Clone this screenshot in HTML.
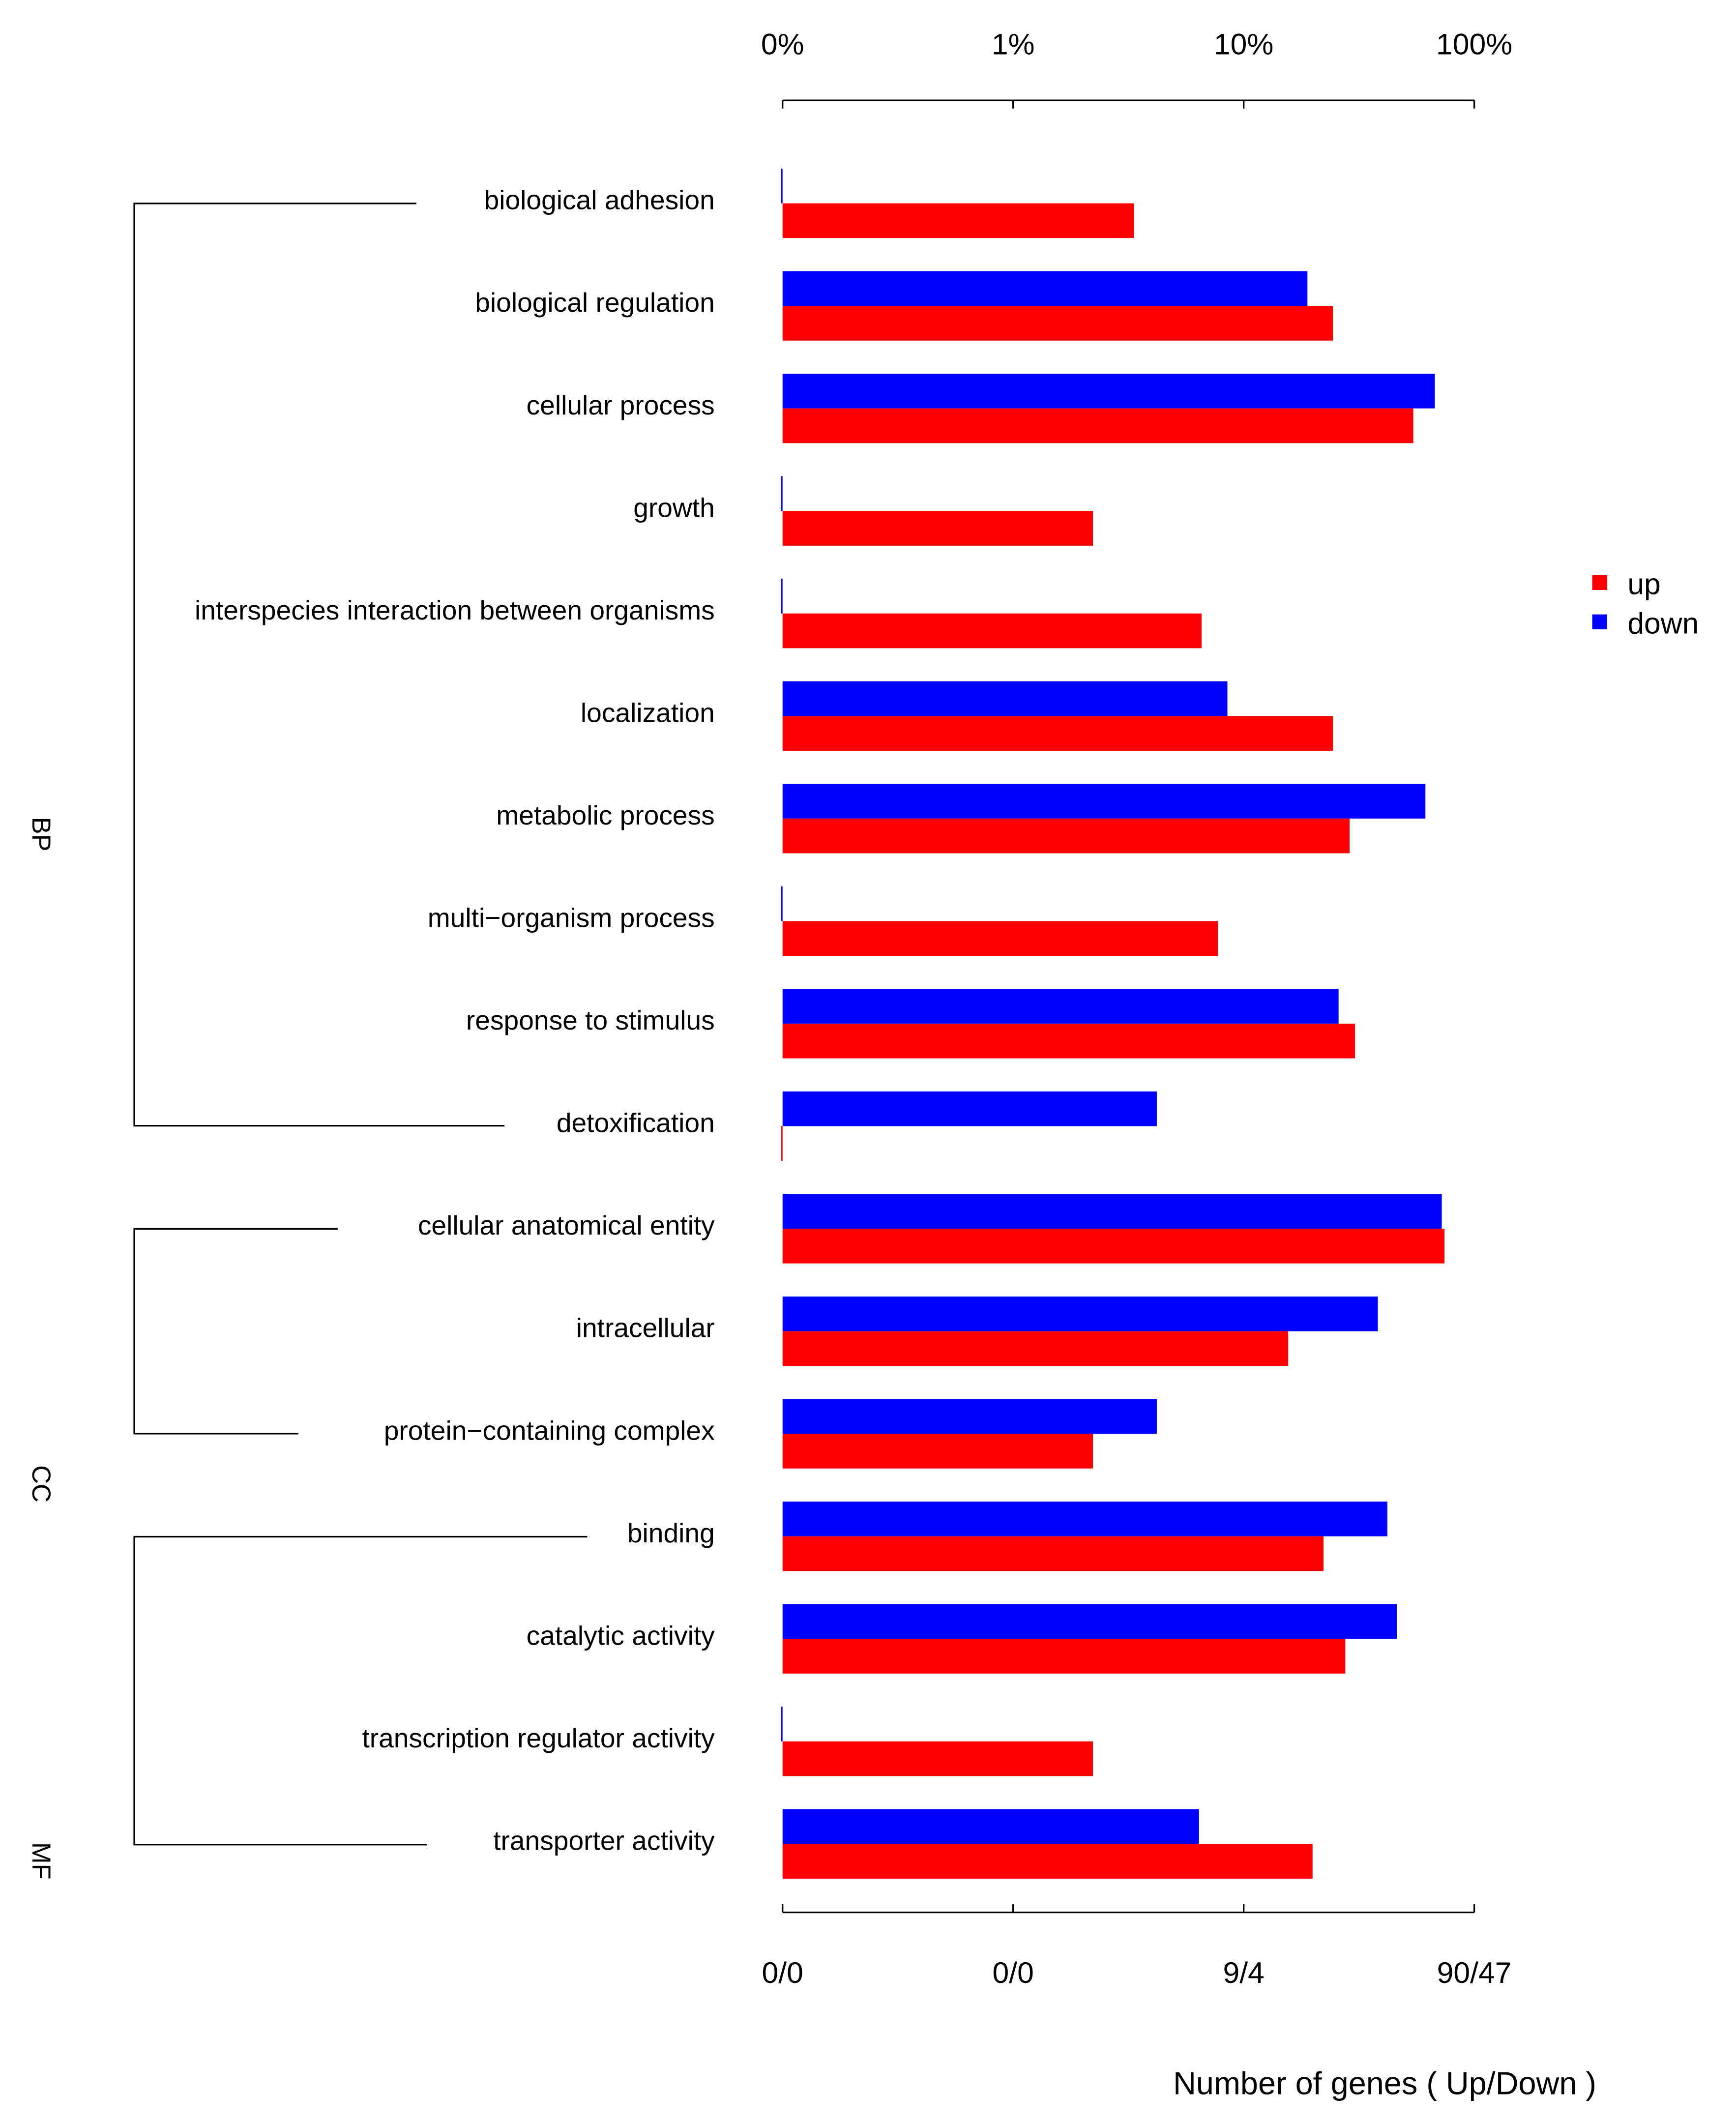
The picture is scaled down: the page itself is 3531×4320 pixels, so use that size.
<!DOCTYPE html>
<html><head><meta charset="utf-8">
<style>html,body{margin:0;padding:0;background:#fff}svg{display:block}text{font-family:"Liberation Sans",Arial,sans-serif;fill:#000}</style>
</head><body>
<svg id="chart" width="3531" height="4320" viewBox="0 0 1280 1566" xmlns="http://www.w3.org/2000/svg">
<g id="axes"></g><g id="bars"></g><g id="labels"></g>
<g stroke="#000" stroke-width="1.2" fill="none">
<path d="M307,150H99V830H372"/>
<path d="M249,906H99V1057H220"/>
<path d="M433,1133H99V1360H315"/>
</g>
<text font-size="19" text-anchor="middle" transform="translate(24,615) rotate(90)">BP</text>
<text font-size="19" text-anchor="middle" transform="translate(24,1094) rotate(90)">CC</text>
<text font-size="19" text-anchor="middle" transform="translate(24,1372) rotate(90)">MF</text>
<g>
<rect x="1174" y="424" width="11" height="11" fill="#ff0000"/>
<text x="1200" y="438" font-size="22">up</text>
<rect x="1174" y="453" width="11" height="11" fill="#0000ff"/>
<text x="1200" y="467" font-size="22">down</text>
</g>
<text x="1021" y="1544" font-size="23.5" text-anchor="middle">Number of genes ( Up/Down )</text>
</svg>
<script>
const categories = ["biological adhesion","biological regulation","cellular process","growth","interspecies interaction between organisms","localization","metabolic process","multi\u2212organism process","response to stimulus","detoxification","cellular anatomical entity","intracellular","protein\u2212containing complex","binding","catalytic activity","transcription regulator activity","transporter activity"];
const upPct = [3.34,24.4,54.4,2.22,6.57,24.4,28.8,7.73,30.4,0,74.3,15.6,2.22,22.2,27.6,2.22,19.9];
const downPct = [0,18.9,67.5,0,0,8.5,61.4,0,25.8,4.2,72.3,38.2,4.2,42,46.2,0,6.4];
const topTicks = ["0%","1%","10%","100%"];
const bottomTicks = ["0/0","0/0","9/4","90/47"];
const tickPct = [0.1,1,10,100];

const NS="http://www.w3.org/2000/svg";
const X0=577, DEC=170;
function xScale(p){ if(p<=0.1) return X0; return X0+DEC*(Math.log10(p)+1); }
function yRow(i){ return 124.3+i*75.6; }
function mk(tag,attrs,parent){const e=document.createElementNS(NS,tag);for(const k in attrs)e.setAttribute(k,attrs[k]);parent.appendChild(e);return e;}
const axes=document.getElementById('axes'), bars=document.getElementById('bars'), labels=document.getElementById('labels');

let l=mk('line',{x1:X0,x2:xScale(100),y1:74,y2:74,stroke:'#000','stroke-width':1.2},axes);


l=mk('line',{x1:X0,x2:xScale(100),y1:1410,y2:1410,stroke:'#000','stroke-width':1.2},axes);


tickPct.forEach((p,i)=>{
  const x=xScale(p);
  let t=mk('line',{x1:x,x2:x,y1:74,y2:80,stroke:'#000','stroke-width':1.2},axes);
  
  
  t=mk('line',{x1:x,x2:x,y1:1404,y2:1410,stroke:'#000','stroke-width':1.2},axes);
  
  
  let tx=mk('text',{x:x,y:40,'font-size':22,'text-anchor':'middle'},axes);
  tx.textContent=topTicks[i];
  
  
  tx=mk('text',{x:x,y:1462,'font-size':22,'text-anchor':'middle'},axes);
  tx.textContent=bottomTicks[i];
  
  
});
categories.forEach((c,i)=>{
  const y=yRow(i);
  const wd=Math.max(1,xScale(downPct[i])-X0), wu=Math.max(1,xScale(upPct[i])-X0);
  const xd=downPct[i]<=0.1?X0-1:X0, xu=upPct[i]<=0.1?X0-1:X0;
  let b=mk('rect',{x:xd,y:y,width:wd,height:25.6,fill:'#0000ff'},bars);
  
  
  b=mk('rect',{x:xu,y:y+25.6,width:wu,height:25.6,fill:'#ff0000'},bars);
  
  
  const t=mk('text',{x:527,y:y+30,'font-size':20,'text-anchor':'end'},labels);
  t.textContent=c;
  
  
});
</script>
</body></html>
